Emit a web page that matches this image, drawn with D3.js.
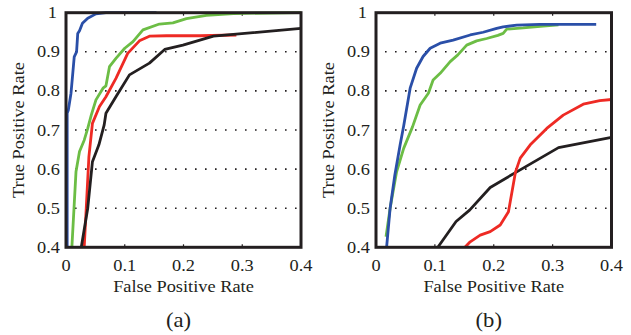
<!DOCTYPE html>
<html>
<head>
<meta charset="utf-8">
<script src="https://cdn.jsdelivr.net/npm/d3@7"></script>
<style>
  body { margin: 0; background: #fff; }
  svg { display: block; }
  text { font-family: "Liberation Serif", "Times New Roman", serif; fill: #231f20; }
</style>
</head>
<body>
<div id="chart"></div>
<script>
// ROC curves, [false positive rate, true positive rate]
const xTicks = [0, 0.1, 0.2, 0.3, 0.4];
const yTicks = [0.4, 0.5, 0.6, 0.7, 0.8, 0.9, 1];
const panelLabels = ["(a)", "(b)"];

const blueA = [[0.002, 0.4], [0.002, 0.743], [0.004, 0.751], [0.0085, 0.794], [0.011, 0.836], [0.014, 0.887],
  [0.018, 0.9], [0.020, 0.947], [0.023, 0.954], [0.028, 0.973], [0.037, 0.986], [0.051, 0.997], [0.068, 1.0], [0.154, 1.0]];
const greenA = [[0.010, 0.4], [0.017, 0.593], [0.023, 0.645], [0.031, 0.674], [0.037, 0.704], [0.043, 0.738],
  [0.051, 0.777], [0.063, 0.807], [0.068, 0.813], [0.074, 0.862], [0.085, 0.883], [0.1, 0.909], [0.114, 0.926],
  [0.131, 0.956], [0.159, 0.971], [0.182, 0.974], [0.205, 0.985], [0.239, 0.993], [0.285, 0.998], [0.4, 1.0]];
const redA = [[0.031, 0.4], [0.039, 0.632], [0.045, 0.717], [0.057, 0.76], [0.068, 0.785], [0.085, 0.832],
  [0.105, 0.896], [0.125, 0.928], [0.142, 0.94], [0.171, 0.941], [0.228, 0.941], [0.29, 0.943]];
const blackA = [[0.026, 0.4], [0.037, 0.5], [0.045, 0.619], [0.056, 0.662], [0.065, 0.713], [0.068, 0.743],
  [0.085, 0.785], [0.108, 0.841], [0.142, 0.871], [0.168, 0.906], [0.199, 0.917], [0.251, 0.940], [0.4, 0.96]];

const blueB = [[0.018, 0.4], [0.024, 0.5], [0.032, 0.585], [0.041, 0.662], [0.047, 0.710], [0.058, 0.807],
  [0.069, 0.858], [0.08, 0.888], [0.092, 0.909], [0.109, 0.922], [0.131, 0.93], [0.16, 0.943], [0.182, 0.95],
  [0.205, 0.96], [0.216, 0.964], [0.239, 0.968], [0.278, 0.97], [0.374, 0.97]];
const greenB = [[0.017, 0.427], [0.024, 0.5], [0.035, 0.593], [0.047, 0.653], [0.062, 0.708], [0.075, 0.764],
  [0.089, 0.794], [0.097, 0.828], [0.109, 0.845], [0.126, 0.875], [0.139, 0.892], [0.154, 0.917], [0.171, 0.928],
  [0.188, 0.934], [0.207, 0.942], [0.216, 0.947], [0.222, 0.958], [0.25, 0.961], [0.284, 0.966], [0.31, 0.969]];
const redB = [[0.151, 0.4], [0.16, 0.414], [0.177, 0.431], [0.194, 0.44], [0.211, 0.457], [0.225, 0.491],
  [0.231, 0.542], [0.237, 0.593], [0.245, 0.628], [0.262, 0.662], [0.29, 0.704], [0.318, 0.738], [0.352, 0.766],
  [0.38, 0.775], [0.4, 0.778]];
const blackB = [[0.105, 0.4], [0.136, 0.466], [0.159, 0.495], [0.194, 0.553], [0.239, 0.593], [0.310, 0.655], [0.4, 0.681]];

const colors = { blue: "#2a4fa8", green: "#6cbd45", red: "#ee2a24", black: "#231f20" };

const panels = [
  { left: 66, right: 301, label: panelLabels[0],
    series: [["red", redA], ["black", blackA], ["green", greenA], ["blue", blueA]] },
  { left: 376, right: 611.5, label: panelLabels[1],
    series: [["green", greenB], ["blue", blueB], ["black", blackB], ["red", redB]] }
];
const plotTop = 12.7, plotBottom = 247.3;
const sx = 1.08; // reference text is a little wider than Liberation Serif

const svg = d3.select("#chart").append("svg")
  .attr("width", 631)
  .attr("height", 335);

panels.forEach(p => {
  const x = d3.scaleLinear().domain([0, 0.4]).range([p.left, p.right]);
  const y = d3.scaleLinear().domain([0.4, 1]).range([plotBottom, plotTop]);
  const g = svg.append("g");

  // dotted horizontal grid
  g.selectAll(".grid")
    .data(yTicks.filter(t => t > 0.4 && t < 1))
    .enter().append("line")
    .attr("x1", x(0)).attr("x2", x(0.4))
    .attr("y1", d => y(d)).attr("y2", d => y(d))
    .attr("stroke", "#231f20")
    .attr("stroke-width", 1.6)
    .attr("stroke-dasharray", "1.6,8.4")
    .attr("stroke-dashoffset", -9);

  // small inner ticks on top and bottom
  xTicks.filter(t => t > 0 && t < 0.4).forEach(t => {
    g.append("line").attr("x1", x(t)).attr("x2", x(t)).attr("y1", plotTop).attr("y2", plotTop + 3)
      .attr("stroke", "#231f20").attr("stroke-width", 1.2);
    g.append("line").attr("x1", x(t)).attr("x2", x(t)).attr("y1", plotBottom).attr("y2", plotBottom - 3)
      .attr("stroke", "#231f20").attr("stroke-width", 1.2);
  });

  const line = d3.line().x(d => x(d[0])).y(d => y(d[1]));
  g.append("g")
    .selectAll("path")
    .data(p.series)
    .enter().append("path")
    .attr("d", d => line(d[1]))
    .attr("fill", "none")
    .attr("stroke", d => colors[d[0]])
    .attr("stroke-width", 2.8)
    .attr("stroke-linejoin", "round");

  // frame
  g.append("rect")
    .attr("x", x(0)).attr("y", plotTop)
    .attr("width", x(0.4) - x(0)).attr("height", plotBottom - plotTop)
    .attr("fill", "none")
    .attr("stroke", "#231f20")
    .attr("stroke-width", 3);

  // y tick labels
  g.selectAll(".ylab")
    .data(yTicks)
    .enter().append("text")
    .attr("transform", d => `translate(${x(0) - 6 - (d === 1 ? 3 : 0)},${y(d) + 5.5}) scale(${sx},1)`)
    .attr("text-anchor", "end")
    .attr("font-size", 17)
    .text(d => d3.format("")(d));

  // x tick labels
  g.selectAll(".xlab")
    .data(xTicks)
    .enter().append("text")
    .attr("transform", d => `translate(${x(d)},270.5) scale(${sx},1)`)
    .attr("text-anchor", "middle")
    .attr("font-size", 17)
    .text(d => d3.format("")(d));

  g.append("text")
    .attr("transform", `translate(${(x(0) + x(0.4)) / 2},291.5) scale(${sx},1)`)
    .attr("text-anchor", "middle")
    .attr("font-size", 17)
    .text("False Positive Rate");

  g.append("text")
    .attr("transform", `translate(${x(0) - 42},${(plotTop + plotBottom) / 2}) rotate(-90) scale(${sx},1)`)
    .attr("text-anchor", "middle")
    .attr("font-size", 17)
    .text("True Positive Rate");

  g.append("text")
    .attr("transform", `translate(${(x(0) + x(0.4)) / 2 - 5},327) scale(${sx},1)`)
    .attr("text-anchor", "middle")
    .attr("font-size", 21)
    .text(p.label);
});
</script>
</body>
</html>
